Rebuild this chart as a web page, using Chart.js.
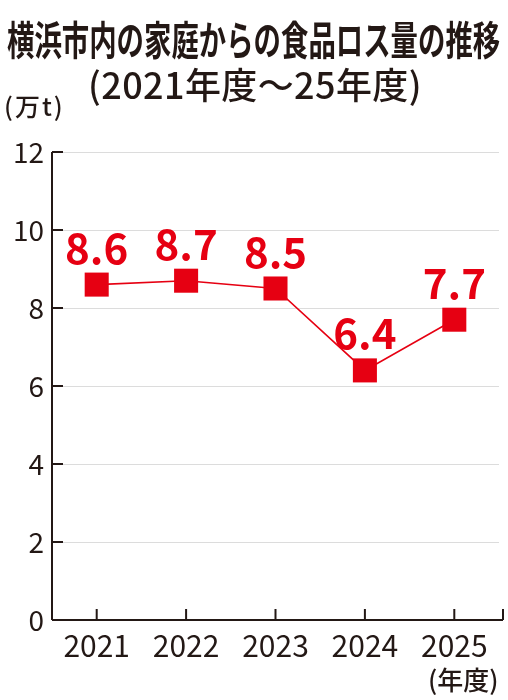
<!DOCTYPE html>
<html><head><meta charset="utf-8">
<script src="https://cdn.jsdelivr.net/npm/chart.js@4.4.1/dist/chart.umd.min.js"></script>
<style>
html,body{margin:0;padding:0;background:#fff;}
#wrap{position:relative;width:508px;height:700px;overflow:hidden;font-family:"Noto Sans CJK JP","Noto Sans",sans-serif;color:#231815;}
#c{position:absolute;left:0;top:0;}
.t{position:absolute;white-space:nowrap;line-height:1;}
#title{left:7px;top:18px;font-size:40px;font-weight:700;transform-origin:0 0;transform:scaleX(0.685);letter-spacing:0;}
#sub{left:88px;top:65px;font-size:36px;font-weight:500;letter-spacing:0.4px;}
#unit{left:4px;top:93px;font-size:25px;font-weight:500;letter-spacing:2px;}
#xunit{left:428px;top:666px;font-size:26px;font-weight:500;}
</style></head>
<body><div id="wrap">
<canvas id="c" width="508" height="700"></canvas>
<div class="t" id="title">横浜市内の家庭からの食品ロス量の推移</div>
<div class="t" id="sub">(2021年度～25年度)</div>
<div class="t" id="unit">(万t)</div>
<div class="t" id="xunit">(年度)</div>
</div>
<script>
const categories = ["2021","2022","2023","2024","2025"];
const lossValues = [8.6, 8.7, 8.5, 6.4, 7.7];
const yTicks = [0, 2, 4, 6, 8, 10, 12];

const RED = "#e60012";
const INK = "#231815";
const FONT = '"Noto Sans CJK JP","Noto Sans",sans-serif';

const decor = {
  id: "decor",
  afterDatasetsDraw(chart) {
    const ctx = chart.ctx, x = chart.scales.x, y = chart.scales.y, a = chart.chartArea;
    ctx.save();
    ctx.strokeStyle = INK; ctx.lineWidth = 2;
    ctx.beginPath();
    ctx.moveTo(a.left, a.top); ctx.lineTo(a.left, a.bottom);
    ctx.moveTo(a.left, a.bottom); ctx.lineTo(a.right + 4, a.bottom);
    y.ticks.forEach((t, i) => {
      const py = y.getPixelForTick(i);
      ctx.moveTo(a.left, py); ctx.lineTo(a.left + 11, py);
    });
    categories.forEach((c, i) => {
      const px = x.getPixelForValue(i);
      ctx.moveTo(px, a.bottom); ctx.lineTo(px, a.bottom - 11);
    });
    ctx.moveTo(a.right + 4, a.bottom); ctx.lineTo(a.right + 4, a.bottom - 11);
    ctx.stroke();
    const meta = chart.getDatasetMeta(0);
    ctx.fillStyle = RED;
    ctx.font = "700 42px " + FONT;
    ctx.textAlign = "center"; ctx.textBaseline = "alphabetic";
    meta.data.forEach((pt, i) => {
      ctx.fillText(lossValues[i].toFixed(1), pt.x, pt.y - 21);
    });
    ctx.restore();
  }
};

new Chart(document.getElementById("c"), {
  type: "line",
  data: {
    labels: categories,
    datasets: [{
      data: lossValues,
      borderColor: RED,
      borderWidth: 1.6,
      backgroundColor: RED,
      pointStyle: "rect",
      pointRadius: 17,
      pointHoverRadius: 17,
      pointBorderWidth: 0,
      tension: 0
    }]
  },
  options: {
    responsive: false,
    animation: false,
    devicePixelRatio: 1,
    layout: { autoPadding: false, padding: { left: 0, top: 152, right: 9, bottom: 0 } },
    plugins: { legend: { display: false }, tooltip: { enabled: false } },
    scales: {
      x: {
        offset: true,
        grid: { display: false, drawTicks: false },
        border: { display: false },
        ticks: { color: INK, font: { family: FONT, size: 30 }, padding: 8, maxRotation: 0 },
        afterFit(s) { s.height = 80; s.paddingLeft = 0; s.paddingRight = 0; }
      },
      y: {
        min: 0, max: 12,
        afterBuildTicks(s) { s.ticks = yTicks.map(v => ({ value: v })); },
        grid: { color: "#dcdcdc", lineWidth: 1, drawTicks: false },
        border: { display: false },
        ticks: { color: INK, font: { family: FONT, size: 28 }, padding: 8 },
        afterFit(s) { s.width = 52; s.paddingTop = 0; s.paddingBottom = 0; }
      }
    }
  },
  plugins: [decor]
});
</script>
</body></html>
